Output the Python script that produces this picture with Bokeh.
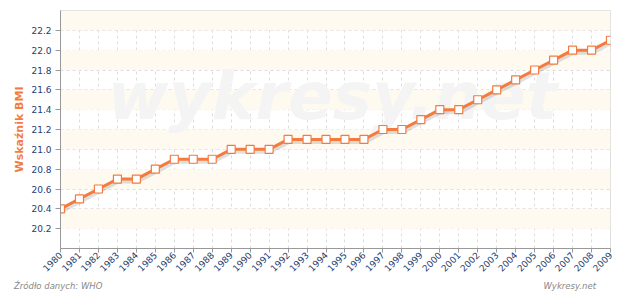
import math
from bokeh.plotting import figure
from bokeh.layouts import column
from bokeh.models import Range1d, BoxAnnotation, Label, FixedTicker, NumeralTickFormatter, Div
from bokeh.embed import file_html
from bokeh.resources import INLINE

years = list(range(1980, 2010))
bmi = [20.4, 20.5, 20.6, 20.7, 20.7, 20.8, 20.9, 20.9, 20.9, 21.0,
       21.0, 21.0, 21.1, 21.1, 21.1, 21.1, 21.1, 21.2, 21.2, 21.3,
       21.4, 21.4, 21.5, 21.6, 21.7, 21.8, 21.9, 22.0, 22.0, 22.1]
y_ticks = [20.2, 20.4, 20.6, 20.8, 21.0, 21.2, 21.4, 21.6, 21.8, 22.0, 22.2]
band_starts = [20.2, 20.6, 21.0, 21.4, 21.8, 22.2]
y_min, y_max = 20.0, 22.4
y_title = "Wskaźnik BMI"
source_text = "Źródło danych: WHO"
brand_text = "Wykresy.net"
watermark = "wykresy.net"

ORANGE = "#f47b3f"
TICK = "#1f4070"

p = figure(width=620, height=277, output_backend="svg", toolbar_location=None,
           x_range=Range1d(years[0], years[-1]), y_range=Range1d(y_min, y_max),
           min_border_left=60, min_border_right=10, min_border_top=10, min_border_bottom=27)
p.background_fill_color = "white"
p.border_fill_color = "white"
p.outline_line_color = "#dddddd"

for b in band_starts:
    p.add_layout(BoxAnnotation(bottom=b, top=min(b + 0.2, y_max), fill_color="#fffaf0",
                               fill_alpha=1, line_alpha=0, level="underlay"))

p.add_layout(Label(x=272, y=152, x_units="screen", y_units="screen", text=watermark,
                   text_font="DejaVu Sans", text_font_style="bold italic", text_font_size="66px",
                   text_color="#f4f4f4", text_align="center", text_baseline="middle", level="underlay"))

p.xaxis.ticker = FixedTicker(ticks=years)
p.yaxis.ticker = FixedTicker(ticks=y_ticks)
p.yaxis.formatter = NumeralTickFormatter(format="0.0")
p.xaxis.major_label_orientation = math.pi / 4
for ax in (p.xaxis, p.yaxis):
    ax.major_label_text_color = TICK
    ax.major_label_text_font = "DejaVu Sans"
    ax.major_label_text_font_size = "9px"
    ax.axis_line_color = "#999999"
    ax.major_tick_line_color = "#999999"
    ax.minor_tick_line_color = None
p.yaxis.major_tick_in = 0
p.yaxis.major_tick_out = 5
p.xaxis.major_tick_in = 0
p.xaxis.major_tick_out = 4
p.yaxis.major_label_standoff = 4
p.xaxis.major_label_standoff = 1
p.yaxis.axis_label = y_title
p.yaxis.axis_label_text_color = ORANGE
p.yaxis.axis_label_text_font = "DejaVu Sans"
p.yaxis.axis_label_text_font_style = "bold"
p.yaxis.axis_label_text_font_size = "11px"
p.yaxis.axis_label_standoff = 2

p.xgrid.grid_line_color = "#dddddd"
p.xgrid.grid_line_dash = "3 3"
p.ygrid.grid_line_color = "#dddddd"
p.ygrid.grid_line_dash = "3 3"

p.line([x + 0.05 for x in years], [v - 0.025 for v in bmi], line_color="#000000",
       line_alpha=0.12, line_width=4)
p.line(years, bmi, line_color=ORANGE, line_width=3)
p.scatter(years, bmi, marker="square", size=8, fill_color="white", line_color=ORANGE, line_width=1.2)

footer = Div(text=(
    '<div style="display:flex;justify-content:space-between;width:596px;'
    'font-family:\'DejaVu Sans\';font-style:italic;font-size:8.5px;color:#888888;'
    'padding-left:14px;line-height:15px;height:15px;">'
    f'<span>{source_text}</span><span>{brand_text}</span></div>'),
    width=620, height=15, margin=(0, 0, 0, 0))

layout = column(p, footer, spacing=0)
open("out.html", "w").write(file_html(layout, INLINE))
